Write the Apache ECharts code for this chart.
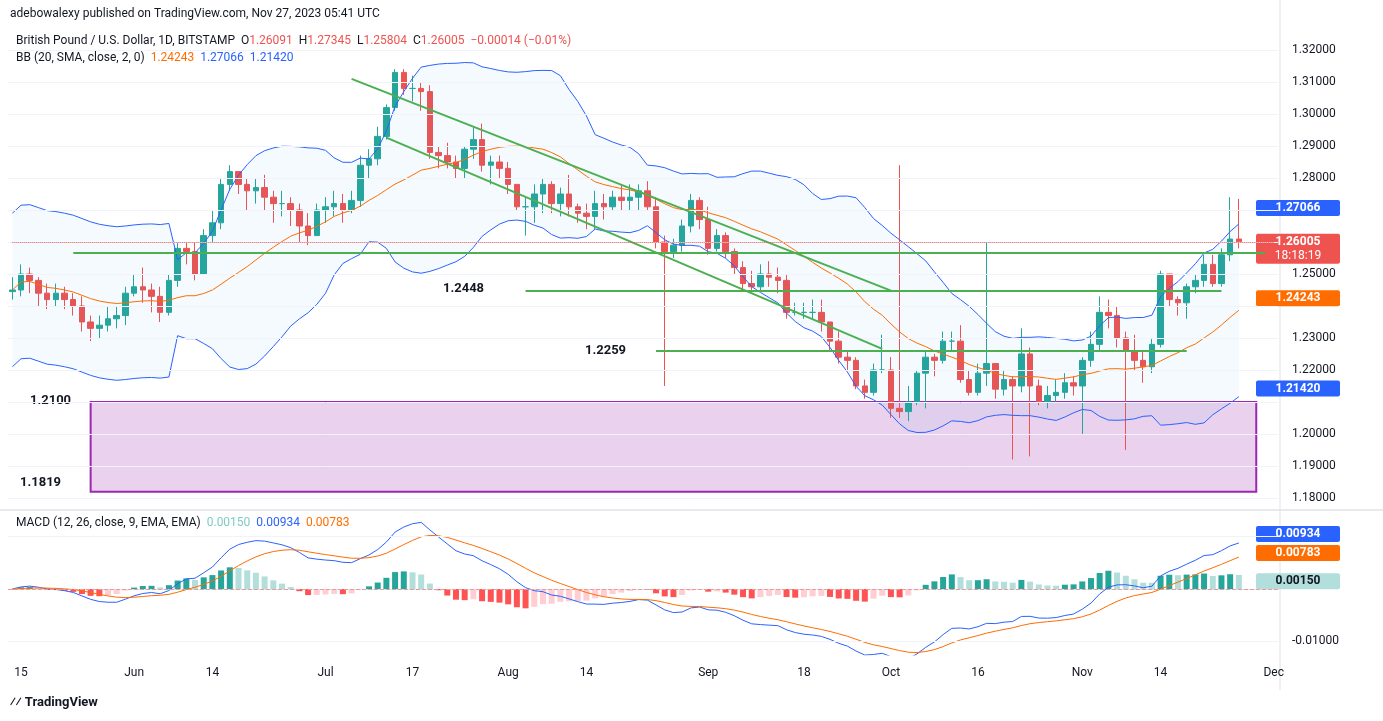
<!DOCTYPE html>
<html>
<head>
<meta charset="utf-8">
<script src="https://cdn.jsdelivr.net/npm/echarts@6/dist/echarts.min.js"></script>
<style>
html,body{margin:0;padding:0;background:#fff;}
#chart{width:1383px;height:721px;}
</style>
</head>
<body>
<div id="chart"></div>
<script>
// daily closes, May 12 .. Nov 27 2023 (weekdays)
var closes = [1.2450,
 1.250,1.248,1.244,1.242,1.244, 1.242,1.240,1.235,1.233,1.234, 1.236,1.237,1.244,1.246,1.245,
 1.243,1.238,1.248,1.258,1.257, 1.250,1.262,1.266,1.278,1.282, 1.278,1.276,1.277,1.274,1.272,
 1.272,1.270,1.265,1.262,1.270, 1.271,1.272,1.270,1.273,1.284, 1.286,1.293,1.302,1.313,1.308,
 1.308,1.307,1.288,1.287,1.285, 1.283,1.289,1.292,1.284,1.285, 1.283,1.278,1.271,1.271,1.275,
 1.278,1.272,1.275,1.271,1.269, 1.268,1.272,1.271,1.274,1.273, 1.274,1.276,1.271,1.260,1.257,
 1.259,1.265,1.273,1.267,1.258, 1.262,1.257,1.252,1.247,1.246, 1.250,1.249,1.248,1.238,1.238,
 1.238,1.238,1.235,1.229,1.224, 1.223,1.215,1.213,1.220,1.220, 1.208,1.207,1.210,1.219,1.224,
 1.223,1.229,1.229,1.217,1.213, 1.219,1.222,1.214,1.217,1.215, 1.225,1.215,1.210,1.212,1.213,
 1.216,1.215,1.223,1.228,1.238, 1.237,1.230,1.226,1.223,1.221, 1.228,1.250,1.242,1.241,1.246,
 1.248,1.253,1.247,1.256,1.26091, 1.26005];
var highs = [1.249,
 1.253,1.252,1.249,1.247,1.247, 1.246,1.244,1.243,1.237,1.237, 1.240,1.240,1.246,1.250,1.252,
 1.247,1.246,1.250,1.260,1.260, 1.260,1.264,1.270,1.280,1.284, 1.282,1.280,1.280,1.281,1.276,
 1.276,1.274,1.272,1.269,1.272, 1.274,1.276,1.275,1.276,1.287, 1.289,1.296,1.303,1.314,1.314,
 1.312,1.310,1.309,1.290,1.291, 1.287,1.290,1.296,1.297,1.287, 1.287,1.285,1.278,1.274,1.278,
 1.280,1.279,1.277,1.281,1.272, 1.272,1.276,1.275,1.276,1.278, 1.278,1.278,1.279,1.274,1.262,
 1.261,1.267,1.275,1.274,1.271, 1.264,1.263,1.258,1.254,1.251, 1.253,1.254,1.252,1.250,1.241,
 1.241,1.242,1.242,1.235,1.232, 1.226,1.224,1.217,1.222,1.231, 1.224,1.284,1.215,1.220,1.226,
 1.225,1.232,1.232,1.234,1.220, 1.222,1.260,1.222,1.220,1.218, 1.233,1.227,1.217,1.215,1.217,
 1.219,1.218,1.224,1.232,1.243, 1.242,1.240,1.232,1.231,1.226, 1.230,1.251,1.250,1.243,1.247,
 1.250,1.256,1.256,1.258,1.274, 1.27345];
var lows = [1.242,
 1.243,1.244,1.240,1.239,1.240, 1.239,1.237,1.232,1.229,1.230, 1.232,1.233,1.234,1.243,1.241,
 1.238,1.235,1.237,1.246,1.253, 1.248,1.250,1.260,1.264,1.276, 1.275,1.270,1.272,1.270,1.266,
 1.268,1.265,1.260,1.259,1.262, 1.266,1.268,1.266,1.269,1.271, 1.280,1.284,1.292,1.301,1.306,
 1.304,1.301,1.286,1.283,1.283, 1.280,1.280,1.286,1.282,1.278, 1.280,1.275,1.270,1.262,1.266,
 1.269,1.269,1.268,1.268,1.266, 1.264,1.264,1.267,1.270,1.270, 1.270,1.270,1.270,1.258,1.215,
 1.255,1.257,1.263,1.264,1.256, 1.257,1.255,1.250,1.245,1.245, 1.245,1.246,1.244,1.236,1.237,
 1.236,1.236,1.232,1.226,1.222, 1.220,1.214,1.211,1.212,1.219, 1.205,1.205,1.204,1.209,1.208,
 1.218,1.222,1.226,1.216,1.212, 1.212,1.215,1.211,1.212,1.192, 1.213,1.193,1.209,1.208,1.210,
 1.211,1.212,1.200,1.221,1.226, 1.233,1.227,1.195,1.220,1.216, 1.219,1.227,1.240,1.237,1.236,
 1.244,1.246,1.246,1.246,1.254, 1.25804];
var firstOpen = 1.2445;
var extraDays = 4;
var priceTicks = [1.18,1.19,1.20,1.21,1.22,1.23,1.24,1.25,1.26,1.27,1.28,1.29,1.30,1.31,1.32];
var macdTicks = [-0.01, 0];
// last values as printed in the legends
var lastPrice = 1.26005;
var lastBB = {basis:1.24243, upper:1.27066, lower:1.21420};
var lastMacd = {hist:0.00150, macd:0.00934, signal:0.00783};
var dateLabels = {'2023-05-15':'15','2023-06-01':'Jun','2023-06-14':'14','2023-07-03':'Jul','2023-07-17':'17',
  '2023-08-01':'Aug','2023-08-14':'14','2023-09-01':'Sep','2023-09-18':'18','2023-10-02':'Oct',
  '2023-10-16':'16','2023-11-01':'Nov','2023-11-14':'14','2023-12-01':'Dec'};

// weekday categories
var dates = [];
var d = new Date(Date.UTC(2023,4,12));
while (dates.length < closes.length + extraDays) {
  var wd = d.getUTCDay();
  if (wd !== 0 && wd !== 6) dates.push(d.toISOString().slice(0,10));
  d.setUTCDate(d.getUTCDate()+1);
}

var candles = [];
for (var i = 0; i < closes.length; i++) {
  var o = i === 0 ? firstOpen : closes[i-1];
  candles.push([o, closes[i], lows[i], highs[i]]);
}

// Bollinger (20, 2) and MACD (12, 26, 9) from the closes
var basis = [], upper = [], lower = [], bandW = [];
for (var i = 0; i < closes.length; i++) {
  var s = Math.max(0, i-19), n = i-s+1, m = 0;
  for (var j = s; j <= i; j++) m += closes[j];
  m /= n;
  var v = 0;
  for (var j = s; j <= i; j++) v += (closes[j]-m)*(closes[j]-m);
  var sd = Math.sqrt(v/n);
  if (n < 20) sd = Math.max(sd, 0.012);
  basis.push(m); upper.push(m+2*sd); lower.push(m-2*sd); bandW.push(4*sd);
}
function ema(arr, p) {
  var k = 2/(p+1), out = [], e = arr[0];
  for (var i = 0; i < arr.length; i++) { e = i === 0 ? arr[0] : arr[i]*k + e*(1-k); out.push(e); }
  return out;
}
var e12 = ema(closes,12), e26 = ema(closes,26);
var macd = e12.map(function(v,i){return v - e26[i];});
var signal = ema(macd, 9);
var hist = macd.map(function(v,i){return v - signal[i];});
var histData = hist.map(function(h,i){
  var prev = i ? hist[i-1] : h, c;
  if (h >= 0) c = h >= prev ? '#26a69a' : '#b2dfdb';
  else c = h <= prev ? '#ff5252' : '#ffcdd2';
  return {value:h, itemStyle:{color:c}};
});

var chart = echarts.init(document.getElementById('chart'));
var font = 'Roboto, "DejaVu Sans", sans-serif';
var green = '#4caf50';

function gridLines(ticks) {
  return ticks.map(function(t){return {yAxis:t};});
}
// hide axis labels that would sit under a price tag
var priceTags = [lastBB.upper, lastPrice, lastBB.basis, lastBB.lower];
function priceLabel(v) {
  for (var k = 0; k < priceTags.length; k++) if (Math.abs(priceTags[k]-v) < 0.005) return '';
  return v.toFixed(5);
}

var option = {
  animation:false,
  backgroundColor:'#fff',
  textStyle:{fontFamily:font},
  grid:[
    {left:8, right:105, top:19, height:493},
    {left:8, right:105, top:512, height:143}
  ],
  xAxis:[
    {type:'category', data:dates, gridIndex:0, axisLine:{show:false}, axisTick:{show:false}, axisLabel:{show:false}},
    {type:'category', data:dates, gridIndex:1, axisLine:{lineStyle:{color:'#e0e3eb'}}, axisTick:{show:false},
      axisLabel:{interval:0, color:'#131722', fontSize:12, margin:12,
        formatter:function(v){return dateLabels[v] || '';}}}
  ],
  yAxis:[
    {type:'value', gridIndex:0, position:'right', min:1.1756, max:1.3297, splitLine:{show:false},
      axisLine:{show:false}, axisTick:{show:false},
      axisLabel:{customValues:priceTicks, color:'#131722', fontSize:12, margin:14, formatter:priceLabel}},
    {type:'value', gridIndex:1, position:'right', min:-0.0126, max:0.0147, splitLine:{show:false},
      axisLine:{show:false}, axisTick:{show:false},
      axisLabel:{customValues:macdTicks, color:'#131722', fontSize:12, margin:14,
        formatter:function(v){return v === 0 ? '' : v.toFixed(5);}}}
  ],
  series:[
    {type:'line', data:lower, stack:'bb', symbol:'none', lineStyle:{opacity:0}, silent:true,
      markLine:{symbol:'none', silent:true, label:{show:false}, lineStyle:{color:'#f0f3fa', type:'solid', width:1},
        data:gridLines(priceTicks)}},
    {type:'line', data:bandW, stack:'bb', symbol:'none', lineStyle:{opacity:0}, areaStyle:{color:'rgba(33,150,243,0.07)'}, silent:true},
    {type:'line', data:upper, symbol:'none', lineStyle:{color:'#2962ff', width:1}},
    {type:'line', data:lower, symbol:'none', lineStyle:{color:'#2962ff', width:1}},
    {type:'line', data:basis, symbol:'none', lineStyle:{color:'#ff6d00', width:1}},
    {type:'candlestick', data:candles, barWidth:6,
      itemStyle:{color:'#26a69a', color0:'#ef5350', borderColor:'#26a69a', borderColor0:'#ef5350'},
      markArea:{silent:true, itemStyle:{color:'rgba(186,104,200,0.3)', borderColor:'#9c27b0', borderWidth:2},
        data:[[{coord:[9,1.2100]},{coord:[143,1.1819]}]]},
      markLine:{symbol:'none', silent:true, label:{show:false}, lineStyle:{color:green, type:'solid', width:2},
        data:[
          [{coord:[6.5,1.2565]},{coord:[144,1.2565]}],
          [{coord:[59,1.2448]},{coord:[139,1.2448]}],
          [{coord:[74,1.2259]},{coord:[135,1.2259]}],
          [{coord:[39,1.3110]},{coord:[100.5,1.2448]}],
          [{coord:[43,1.2926]},{coord:[99.8,1.2266]}],
          [{coord:[0,lastPrice], lineStyle:{color:'#ef5350', type:'dotted', width:1}},{coord:[145,lastPrice]}]
        ]}},
    {type:'bar', data:histData, xAxisIndex:1, yAxisIndex:1, barWidth:6,
      markLine:{symbol:'none', silent:true, label:{show:false}, lineStyle:{color:'#f0f3fa', type:'solid', width:1},
        data:[{yAxis:-0.01},{yAxis:0.01},{yAxis:0, lineStyle:{color:'#ef9a9a', type:'dashed'}}]}},
    {type:'line', data:macd, xAxisIndex:1, yAxisIndex:1, symbol:'none', lineStyle:{color:'#2962ff', width:1}},
    {type:'line', data:signal, xAxisIndex:1, yAxisIndex:1, symbol:'none', lineStyle:{color:'#ff6d00', width:1}}
  ]
};
chart.setOption(option);

// price tags placed from axis conversion (nudge keeps close tags apart)
function yPix(v, g){ return chart.convertToPixel({yAxisIndex:g}, v); }
function tag(v, g, bg, fg, extra, nudge) {
  var y = yPix(v, g) + (nudge || 0);
  var h = extra ? 30 : 16;
  var kids = [
    {type:'rect', shape:{x:-4, y:0, width:84, height:h, r:2}, style:{fill:bg}},
    {type:'text', style:{x:38, y:8, text:v.toFixed(5), fill:fg, font:'bold 12px '+font, align:'center', verticalAlign:'middle'}}
  ];
  if (extra) kids.push({type:'text', style:{x:38, y:22, text:extra, fill:fg, font:'12px '+font, align:'center', verticalAlign:'middle'}});
  return {type:'group', left:1256, top:y-8, children:kids};
}
var g = [
  {type:'text', left:10, top:8, style:{text:'adebowalexy published on TradingView.com, Nov 27, 2023 05:41 UTC', fill:'#131722', font:'12px '+font}},
  {type:'text', left:16, top:35, style:{rich:{a:{fill:'#131722', font:'12px '+font}, r:{fill:'#ef5350', font:'12px '+font}},
    text:'{a|British Pound / U.S. Dollar, 1D, BITSTAMP  O}{r|1.26091}{a|  H}{r|1.27345}{a|  L}{r|1.25804}{a|  C}{r|1.26005  −0.00014 (−0.01%)}'}},
  {type:'text', left:16, top:52, style:{rich:{a:{fill:'#131722', font:'12px '+font}, o:{fill:'#ff6d00', font:'12px '+font}, b:{fill:'#2962ff', font:'12px '+font}},
    text:'{a|BB (20, SMA, close, 2, 0)  }{o|1.24243}{b|  1.27066  1.21420}'}},
  {type:'text', left:16, top:517, style:{rich:{a:{fill:'#131722', font:'12px '+font}, t:{fill:'#80cbc4', font:'12px '+font}, o:{fill:'#ff6d00', font:'12px '+font}, b:{fill:'#2962ff', font:'12px '+font}},
    text:'{a|MACD (12, 26, close, 9, EMA, EMA)  }{t|0.00150}{b|  0.00934}{o|  0.00783}'}},
  {type:'text', left:443, top:282, style:{text:'1.2448', fill:'#131722', font:'bold 13px '+font}},
  {type:'text', left:585, top:344, style:{text:'1.2259', fill:'#131722', font:'bold 13px '+font}},
  {type:'text', left:30, top:394, style:{text:'1.2100', fill:'#131722', font:'bold 13px '+font}},
  {type:'text', left:20, top:476, style:{text:'1.1819', fill:'#131722', font:'bold 13px '+font}},
  {type:'line', shape:{x1:0, y1:510, x2:1383, y2:510}, style:{stroke:'#d1d4dc', lineWidth:1}},
  {type:'line', shape:{x1:1280, y1:0, x2:1280, y2:690}, style:{stroke:'#e0e3eb', lineWidth:1}},
  {type:'text', left:10, top:696, style:{text:'⁄⁄ TradingView', fill:'#131722', font:'bold 13px '+font}},
  tag(lastBB.upper, 0, '#2962ff', '#fff'),
  tag(lastPrice, 0, '#ef5350', '#fff', '18:18:19'),
  tag(lastBB.basis, 0, '#ff6d00', '#fff'),
  tag(lastBB.lower, 0, '#2962ff', '#fff'),
  tag(lastMacd.macd, 1, '#2962ff', '#fff', null, -6),
  tag(lastMacd.signal, 1, '#ff6d00', '#fff', null, 5),
  tag(lastMacd.hist, 1, '#b2dfdb', '#131722')
];
chart.setOption({graphic:g});
</script>
</body>
</html>
